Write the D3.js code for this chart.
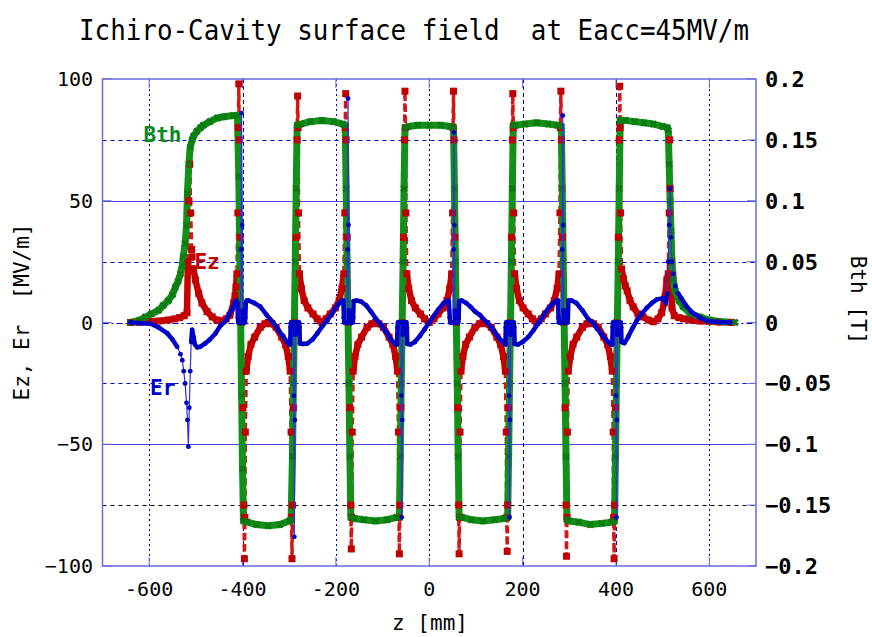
<!DOCTYPE html>
<html><head><meta charset="utf-8">
<script src="https://cdn.jsdelivr.net/npm/d3@7"></script>
<style>body{margin:0;background:#fff}svg{display:block}text{white-space:pre}</style>
</head><body>
<script>
// ---------------- data ----------------
const title = "Ichiro-Cavity surface field  at Eacc=45MV/m";
const xTicks = [-600, -400, -200, 0, 200, 400, 600];
const yTicks = [-100, -50, 0, 50, 100];
const y2Ticks = [-0.2, -0.15, -0.1, -0.05, 0, 0.05, 0.1, 0.15, 0.2];
const y2TickLabels = ["-0.2","-0.15","-0.1","-0.05","0","0.05","0.1","0.15","0.2"];

// Ez [MV/m] along z [mm]
const ez = [
[-640,0],[-620,0.2],[-600,0.4],[-580,0.6],[-560,1],[-545,1.5],[-535,2],[-525,2.8],[-519,4],
[-517,25],[-515,50],[-513,65],[-511,45],[-509,30],[-508,27],[-505,22],[-501,17.5],[-494,12],[-487,8],[-476,4.5],[-465,2.3],[-455,1],[-444,0.6],[-435,1.5],[-427,3],[-419,8],[-416,11],[-414,14.6],
[-412,20],[-410,45],[-409,80],[-408,98],[-407,75],[-405,35],[-402,0],[-399,-35],[-397,-75],[-396,-97],[-395,-80],[-394,-45],[-392,-20],[-388,-14],
[-382,-9],[-374,-6],[-362,-2],[-352,-0.5],[-345,0],[-338,-0.5],[-328,-2],[-316,-6],[-308,-9],[-302,-14],
[-298,-20],[-296,-45],[-295,-80],[-294,-97],[-293,-75],[-291,-35],[-288,0],[-285,35],[-283,75],[-282,93],[-281,80],[-280,45],[-278,20],[-274,14],
[-268,9],[-260,6],[-249,3.5],[-240,1.5],[-230,0],[-221,1.5],[-212,3.5],[-201,6],[-193,9],[-187,14],
[-183,20],[-181,45],[-180,80],[-179,94],[-178,75],[-176,35],[-173,0],[-170,-35],[-168,-75],[-167,-93],[-166,-80],[-165,-45],[-163,-20],[-159,-14],
[-153,-9],[-145,-6],[-133,-2],[-123,-0.5],[-115,0],[-108,-0.5],[-98,-2],[-86,-6],[-78,-9],[-72,-14],
[-68,-20],[-66,-45],[-65,-80],[-64,-95],[-63,-75],[-61,-35],[-58,0],[-55,35],[-53,75],[-52,95],[-51,80],[-50,45],[-48,20],[-44,14],
[-38,9],[-30,6],[-19,3.5],[-10,1.5],[0,0],[10,1.5],[19,3.5],[30,6],[38,9],[44,14],
[48,20],[50,45],[51,80],[52,95],[53,75],[55,35],[58,0],[61,-35],[63,-75],[64,-95],[65,-80],[66,-45],[68,-20],[72,-14],
[78,-9],[86,-6],[98,-2],[108,-0.5],[115,0],[123,-0.5],[133,-2],[145,-6],[153,-9],[159,-14],
[163,-20],[165,-45],[166,-80],[167,-94],[168,-75],[170,-35],[173,0],[176,35],[178,75],[179,94],[180,80],[181,45],[183,20],[187,14],
[193,9],[201,6],[212,3.5],[221,1.5],[230,0],[240,1.5],[249,3.5],[260,6],[268,9],[274,14],
[278,20],[280,45],[281,80],[282,95],[283,75],[285,35],[288,0],[291,-35],[293,-75],[294,-96],[295,-80],[296,-45],[298,-20],[302,-14],
[308,-9],[316,-6],[328,-2],[338,-0.5],[345,0],[352,-0.5],[362,-2],[374,-6],[382,-9],[388,-14],
[392,-20],[394,-45],[395,-80],[396,-97],[397,-75],[399,-35],[402,0],[405,35],[407,75],[408,97],[409,80],[410,45],[412,22],[416,18],
[420,15],[424,13],[430,9],[437,6.4],[447,3.5],[458,2.3],[470,1],[480,0.3],[490,1.5],[498,4],[503,8],[505,10.5],[509,17.5],[512,20],
[514,45],[515,75],[516,55],[518,25],[520,6],[525,2.8],[535,2],[545,1.5],[560,1],[580,0.6],[600,0.4],[620,0.2],[648,0]
];

// Bth [T] along z [mm]
const bth = [
[-640,0],[-620,0.002],[-608,0.0045],[-595,0.007],[-580,0.01],[-570,0.014],[-559,0.018],[-550,0.023],[-544,0.029],[-538,0.034],[-533,0.04],[-529,0.047],[-527,0.054],[-523,0.065],[-520,0.08],[-518,0.106],[-515,0.13],[-512,0.144],[-508,0.15],[-505,0.153],[-498,0.157],[-490,0.16],[-484,0.162],[-470,0.165],[-454,0.168],[-440,0.169],[-420,0.17],[-411,0.17],
[-408,0.12],[-406,0.06],[-404,0],[-402,-0.06],[-400,-0.12],[-398,-0.163],
[-390,-0.164],[-370,-0.166],[-345,-0.167],[-320,-0.166],[-300,-0.163],[-296,-0.162],
[-293,-0.11],[-291,-0.05],[-289,0],[-287,0.05],[-285,0.11],[-283,0.162],
[-275,0.163],[-255,0.165],[-230,0.166],[-205,0.165],[-185,0.163],[-180,0.162],
[-178,0.11],[-176,0.05],[-174,0],[-172,-0.05],[-170,-0.11],[-168,-0.16],
[-160,-0.161],[-140,-0.162],[-115,-0.163],[-90,-0.162],[-70,-0.16],[-64,-0.16],
[-62,-0.11],[-60,-0.05],[-58,0],[-56,0.05],[-54,0.11],[-52,0.16],
[-45,0.161],[-25,0.162],[0,0.162],[25,0.162],[45,0.161],[52,0.16],
[54,0.11],[56,0.05],[58,0],[60,-0.05],[62,-0.11],[64,-0.16],
[70,-0.16],[90,-0.162],[115,-0.163],[140,-0.162],[160,-0.161],[168,-0.16],
[170,-0.11],[172,-0.05],[174,0],[176,0.05],[178,0.11],[180,0.162],
[185,0.162],[205,0.163],[230,0.164],[255,0.163],[275,0.162],[283,0.161],
[285,0.11],[287,0.05],[289,0],[291,-0.05],[293,-0.11],[295,-0.162],
[300,-0.163],[320,-0.164],[345,-0.166],[370,-0.165],[390,-0.164],[397,-0.163],
[399,-0.11],[401,-0.05],[403,0],[405,0.05],[407,0.11],[409,0.166],
[420,0.166],[440,0.165],[460,0.164],[480,0.163],[500,0.161],[510,0.16],
[512,0.158],[514,0.13],[516,0.10],[518,0.075],[520,0.05],[523,0.035],[527,0.026],[535,0.018],[544,0.013],[560,0.007],[580,0.0045],[600,0.002],[620,0.0008],[655,0]
];

// Er [MV/m] along z [mm]
const er = [
[-640,0],[-620,-0.3],[-597,-0.5],[-580,-2],[-561,-4.5],[-550,-7],[-540,-10],[-533,-13],[-529,-15.5],[-526,-20],[-523,-25],[-520,-33],[-518,-40],[-516,-51],[-514,-35],[-512,-20],[-510,-8],[-508,-3],[-505,-6],[-502,-9],[-497,-10.2],[-491,-10],[-480,-8.6],[-470,-7],[-458,-4.5],[-448,-1.5],[-437,0.5],[-428,3.5],[-422,5.5],[-416,8.5],[-413,9],
[-411,8],[-410,2],[-409,0],[-404,0],[-403,30],[-402,86],[-401,40],[-400,5],[-399,0],[-395,0],[-394,2],[-393,8],[-391,9],
[-387,9],[-375,8],[-362,6.5],[-348,3],[-334,0],[-322,-3.5],[-312,-6],[-305,-8],[-300,-8.8],
[-298,-9],[-297,-2],[-296,0],[-291,0],[-290,-30],[-289,-88],[-288,-40],[-287,-5],[-286,0],[-279,0],[-278,-2],[-277,-8.6],
[-270,-8.8],[-261,-8.6],[-250,-7],[-240,-4.5],[-229,-1.5],[-218,1],[-207,4],[-197,7],[-190,8.5],[-186,9],
[-184,9],[-183,2],[-182,0],[-176,0],[-175,30],[-174,92],[-173,40],[-172,5],[-171,0],[-164,0],[-163,2],[-162,8.8],
[-155,9],[-146,8.6],[-135,7],[-125,4.5],[-114,1.5],[-103,-1],[-92,-4],[-82,-7],[-75,-8.5],[-71,-9],
[-69,-9],[-68,-2],[-67,0],[-61,0],[-60,-30],[-59,-80],[-58,-40],[-57,-5],[-56,0],[-49,0],[-48,-2],[-47,-8.8],
[-40,-9],[-31,-8],[-20,-5.5],[-10,-2.8],[0,0],[10,2.8],[20,5.5],[31,8],[40,9],
[42,8.8],[44,2],[45,0],[51,0],[52,30],[53,78],[54,40],[55,5],[56,0],[62,0],[63,2],[64,8.8],
[70,9],[79,8],[88,6.5],[98,4.5],[109,3],[118,1],[125,0],[133,-2],[140,-4],[150,-6.5],[160,-8.5],
[163,-9],[164,-2],[165,0],[170,0],[171,-30],[172,-80],[173,-40],[174,-5],[175,0],[181,0],[182,-2],[183,-8.8],
[190,-9],[200,-8],[212,-6],[224,-3],[235,0],[245,3],[256,6],[266,8],[273,9],
[276,9],[277,2],[278,0],[284,0],[285,30],[286,85],[287,40],[288,5],[289,0],[296,0],[297,2],[298,9],
[305,9],[315,8],[328,5],[340,1.5],[350,0],[360,-2.5],[372,-5.5],[383,-8],[390,-9],
[392,-9],[393,-2],[394,0],[399,0],[400,-30],[401,-80],[402,-40],[403,-5],[404,0],[410,0],[411,-2],[412,-8],
[418,-8.5],[426,-6],[435,-2.5],[445,1],[455,3.5],[466,6],[477,8],[488,9.5],[501,10],[507,8],
[510,12],[512,25],[514,40],[516,55],[518,35],[520,25],[523,20],[527,15],[533,12],[540,10],[550,7],[561,4.5],[580,2],[597,0.5],[620,0.2],[645,0]
];

const seriesLabels = [
  {text:"Bth", color:"#0a8a1a", z:-612, v:77},
  {text:"Ez",  color:"#c00000", z:-503, v:25},
  {text:"Er",  color:"#0000cc", z:-598, v:-27}
];

// ---------------- drawing ----------------
const W = 872, H = 637;
const svg = d3.select("body").append("svg").attr("width", W).attr("height", H)
  .style("font-family","'DejaVu Sans Mono', 'Liberation Mono', monospace");

const x = d3.scaleLinear().domain([-700, 700]).range([102.5, 756]);
const y = d3.scaleLinear().domain([-100, 100]).range([566, 79]);
const y2 = d3.scaleLinear().domain([-0.2, 0.2]).range([566, 79]);

const gridBlue = "#0000d0";
const frameBlue = "#6a6ae6";

// horizontal grid
const g = svg.append("g");
y2Ticks.forEach(t => {
  if (Math.abs(t) > 0.19) return;
  const yy = Math.round(y2(t)) + 0.5;
  const major = Math.abs(Math.abs(t) - 0.1) < 1e-6;
  g.append("line").attr("x1", x(-700)).attr("x2", x(700)).attr("y1", yy).attr("y2", yy)
    .attr("stroke", major ? "#4848e0" : (Math.abs(t + 0.15) < 1e-6 ? "#000" : gridBlue))
    .attr("stroke-width", 1)
    .attr("stroke-dasharray", major ? null : (t === 0 ? "6,3,2,3" : "4,4"));
});
xTicks.forEach(t => {
  const xx = Math.round(x(t)) + 0.5;
  const dashed = Math.abs(t) === 400 || t === 200;
  g.append("line").attr("x1", xx).attr("x2", xx).attr("y1", y(100)).attr("y2", y(-100))
    .attr("stroke", t === 0 ? "#000" : gridBlue)
    .attr("stroke-width", 1)
    .attr("stroke-dasharray", dashed ? "4,3" : "2,3");
});

// frame
svg.append("rect").attr("x", x(-700)).attr("y", y(100))
  .attr("width", x(700) - x(-700)).attr("height", y(-100) - y(100))
  .attr("fill", "none").attr("stroke", frameBlue).attr("stroke-width", 1.5);

// ticks
const tk = svg.append("g").attr("stroke", frameBlue).attr("stroke-width", 1);
yTicks.forEach(t => { tk.append("line").attr("x1", x(-700)).attr("x2", x(-700) + 9).attr("y1", y(t)).attr("y2", y(t)); });
y2Ticks.forEach(t => { tk.append("line").attr("x1", x(700) - 9).attr("x2", x(700)).attr("y1", y2(t)).attr("y2", y2(t)); });
xTicks.forEach(t => {
  tk.append("line").attr("x1", x(t)).attr("x2", x(t)).attr("y1", y(-100)).attr("y2", y(-100) - 9);
  tk.append("line").attr("x1", x(t)).attr("x2", x(t)).attr("y1", y(100)).attr("y2", y(100) + 9);
});

// tick labels
yTicks.forEach(t => {
  svg.append("text").attr("x", 93).attr("y", y(t) + 7).attr("text-anchor", "end")
    .attr("font-size", 20).attr("fill", "#000").text(t < 0 ? "\u2212" + Math.abs(t) : String(t));
});
xTicks.forEach(t => {
  svg.append("text").attr("x", x(t)).attr("y", 596).attr("text-anchor", "middle")
    .attr("font-size", 20).attr("fill", "#000").text(t < 0 ? "-" + Math.abs(t) : String(t));
});
y2Ticks.forEach((t, i) => {
  svg.append("text").attr("x", 765).attr("y", y2(t) + 8).attr("text-anchor", "start")
    .attr("font-size", 22).attr("font-weight", "bold").attr("fill", "#000")
    .text(y2TickLabels[i].replace("-", "\u2212"));
});

// axis titles
svg.append("text").attr("x", 414).attr("y", 40).attr("text-anchor", "middle")
  .attr("font-size", 29).attr("textLength", 670).attr("lengthAdjust", "spacingAndGlyphs")
  .attr("fill", "#000").text(title);
svg.append("text").attr("x", 430).attr("y", 630).attr("text-anchor", "middle")
  .attr("font-size", 21).attr("fill", "#000").text("z [mm]");
svg.append("text").attr("transform", "translate(29,312) rotate(-90)").attr("text-anchor", "middle")
  .attr("font-size", 21).attr("fill", "#000").text("Ez, Er  [MV/m]");
svg.append("text").attr("transform", "translate(851,300) rotate(90)").attr("text-anchor", "middle")
  .attr("font-size", 21).attr("fill", "#000").text("Bth [T]");

// series
svg.append("clipPath").attr("id", "clip").append("rect")
  .attr("x", x(-700)).attr("y", y(100) - 6).attr("width", x(700) - x(-700)).attr("height", y(-100) - y(100) + 12);
const plot = svg.append("g").attr("clip-path", "url(#clip)");

const lineE = d3.line().x(d => x(d[0])).y(d => y(d[1]));
const lineB = d3.line().x(d => x(d[0])).y(d => y2(d[1]));
const thickE = thr => d3.line().defined(d => Math.abs(d[1]) <= thr).x(d => x(d[0])).y(d => y(d[1]));

// Ez line
plot.append("path").datum(ez).attr("d", lineE).attr("fill", "none")
  .attr("stroke", "#d01818").attr("stroke-width", 3.5).attr("stroke-dasharray", "7,4");
plot.append("path").datum(ez).attr("d", thickE(25)).attr("fill", "none")
  .attr("stroke", "#c80000").attr("stroke-width", 6.5).attr("stroke-linejoin", "round");

// Bth
plot.append("path").datum(bth).attr("d", lineB).attr("fill", "none")
  .attr("stroke", "#139018").attr("stroke-width", 7).attr("stroke-linejoin", "round");

// Ez markers drawn over the Bth band (as in the reference)
plot.append("g").selectAll("rect").data(ez).join("rect")
  .attr("x", d => x(d[0]) - 3.5).attr("y", d => y(d[1]) - 3.5).attr("width", 7).attr("height", 7)
  .attr("fill", "#c00000");

const star = d3.symbol().type(d3.symbolCross).size(36);
plot.append("g").selectAll("path").data(bth).join("path")
  .attr("transform", d => `translate(${x(d[0])},${y2(d[1])}) rotate(45)`)
  .attr("d", star).attr("fill", "#0a7a12");

// Er
plot.append("path").datum(er).attr("d", lineE).attr("fill", "none")
  .attr("stroke", "#3030e0").attr("stroke-width", 1.2);
plot.append("path").datum(er).attr("d", thickE(12)).attr("fill", "none")
  .attr("stroke", "#0000d0").attr("stroke-width", 4.5).attr("stroke-linejoin", "round");
plot.append("g").selectAll("circle").data(er).join("circle")
  .attr("cx", d => x(d[0])).attr("cy", d => y(d[1])).attr("r", 2.4).attr("fill", "#0000c0");

// series labels
seriesLabels.forEach(s => {
  svg.append("text").attr("x", x(s.z)).attr("y", y(s.v) + 7).attr("font-size", 21)
    .attr("font-weight", "bold").attr("fill", s.color).text(s.text);
});
</script>
</body></html>
